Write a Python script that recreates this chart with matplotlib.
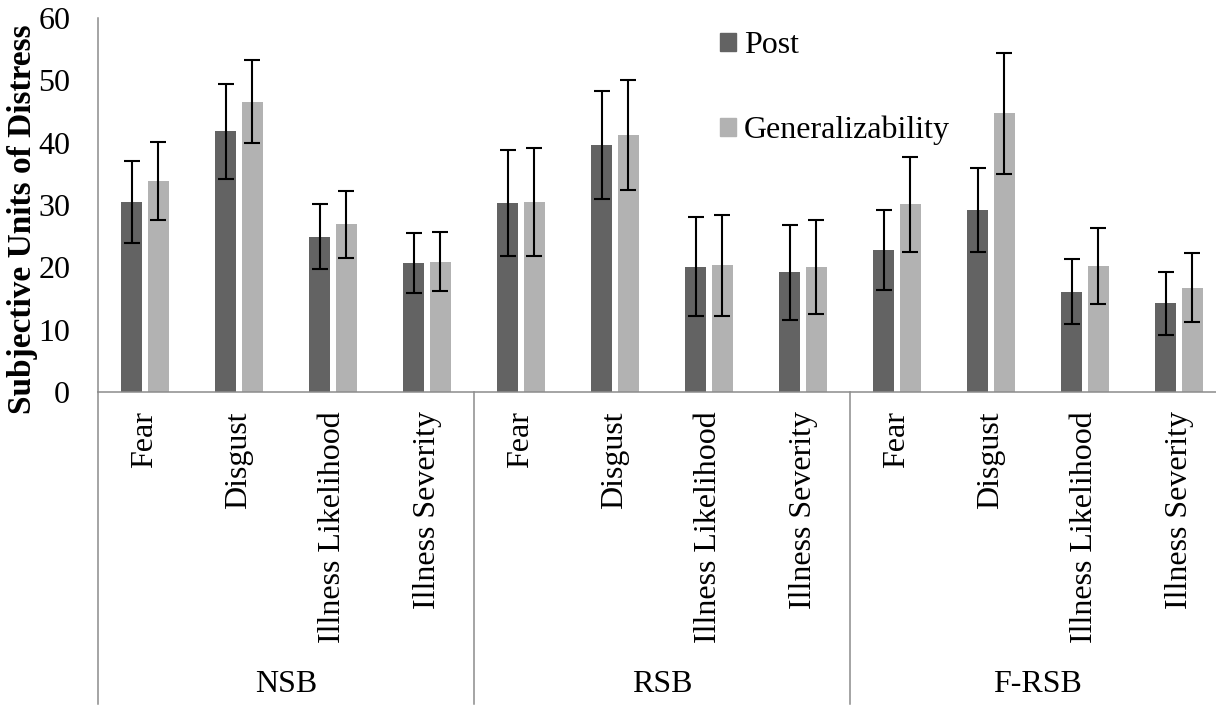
import numpy as np
import matplotlib.pyplot as plt
from matplotlib.patches import Patch
from matplotlib import transforms

plt.rcParams['font.family'] = ['Liberation Serif', 'DejaVu Serif']

# Gemiddelden en foutmarges per conditie
groups = ['NSB', 'RSB', 'F-RSB']
measures = ['Fear', 'Disgust', 'Illness Likelihood', 'Illness Severity']

post = [30.5, 41.8, 24.9, 20.7,
        30.3, 39.6, 20.1, 19.2,
        22.8, 29.2, 16.1, 14.2]
post_err = [6.6, 7.6, 5.2, 4.75,
            8.45, 8.7, 7.95, 7.6,
            6.4, 6.8, 5.25, 5.05]

gen = [33.9, 46.6, 26.9, 20.9,
       30.5, 41.2, 20.3, 20.1,
       30.1, 44.7, 20.2, 16.7]
gen_err = [6.25, 6.7, 5.4, 4.75,
           8.7, 8.8, 8.1, 7.55,
           7.65, 9.65, 6.05, 5.55]

dark = '#636363'
light = '#b2b2b2'
axis_grey = '#8c8c8c'
fs = 23

fig = plt.figure(figsize=(12.16, 7.06), dpi=100)
ax = fig.add_axes([98/1216, 1 - 392/706, 1128/1216, 374/706])

x = np.arange(len(post))
w = 0.223
off = 0.141
ekw = dict(fmt='none', ecolor='black', elinewidth=1.5, capsize=5.6, capthick=1.5)

ax.bar(x - off, post, w, color=dark, label='Post')
ax.bar(x + off, gen, w, color=light, label='Generalizability')
ax.errorbar(x - off, post, yerr=post_err, **ekw)
ax.errorbar(x + off, gen, yerr=gen_err, **ekw)

ax.set_xlim(-0.5, len(post) - 0.5)
ax.set_ylim(0, 60)
ax.set_yticks(range(0, 61, 10))
ax.tick_params(axis='y', length=0, pad=20, labelsize=fs)

ax.set_xticks(x)
ax.set_xticklabels(measures * len(groups), rotation=90, va='top', ha='center')
ax.tick_params(axis='x', length=0, pad=14, labelsize=fs)

for s in ['top', 'right']:
    ax.spines[s].set_visible(False)
for s in ['left', 'bottom']:
    ax.spines[s].set_color(axis_grey)
    ax.spines[s].set_linewidth(1.1)

# groepslabels en scheidingslijnen onder de as
trans = transforms.blended_transform_factory(ax.transData, ax.transAxes)
for i, g in enumerate(groups):
    ax.text(i * 4 + 1.5, -0.783, g, transform=trans, ha='center', va='center', fontsize=fs)
for xs in [-0.5, 3.5, 7.5]:
    ax.plot([xs, xs], [0, -0.834], transform=trans, color=axis_grey, lw=1.1, clip_on=False)

fig.text(23/1216, 1 - 219/706, 'Subjective Units of Distress', rotation=90,
         ha='center', va='center', fontsize=24, fontweight='bold')

handles = [Patch(color=dark, label='Post'), Patch(color=light, label='Generalizability')]
fig.legend(handles=handles, loc='upper left', bbox_to_anchor=(720/1216, 1 - 31/706),
           frameon=False, fontsize=fs, borderpad=0, handlelength=0.5, handleheight=0.5,
           handletextpad=0.25, labelspacing=1.75, borderaxespad=0)

fig.savefig('out.png', dpi=100)
